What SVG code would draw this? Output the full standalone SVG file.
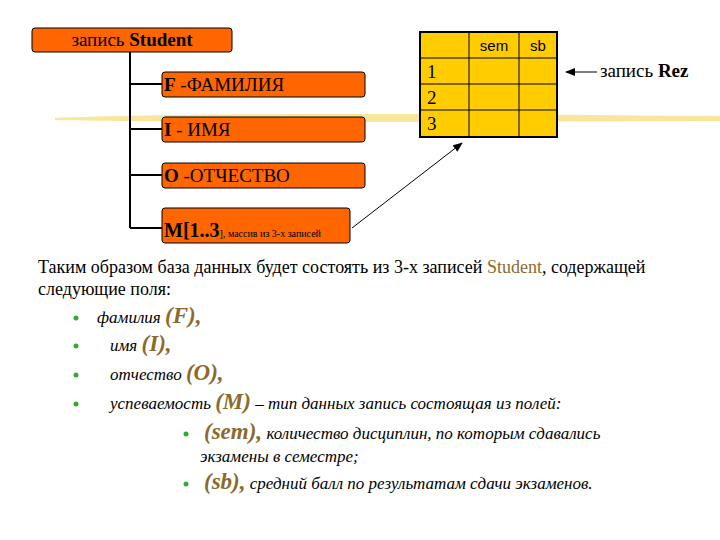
<svg xmlns="http://www.w3.org/2000/svg" width="720" height="540" viewBox="0 0 720 540">
<style>
.box{fill:#FF6600;stroke:#000;stroke-width:1}
.t{font-family:"Times New Roman","Liberation Serif","DejaVu Serif",serif;font-size:19px;fill:#000}
.s{font-family:"Liberation Sans",Arial,sans-serif;font-size:15px;fill:#000}
.ln{stroke:#000;stroke-width:2;fill:none}
.p{font-family:"Times New Roman","Liberation Serif","DejaVu Serif",serif;font-size:18px;fill:#000}
.i{font-family:"Times New Roman","Liberation Serif","DejaVu Serif",serif;font-style:italic;font-size:17px;fill:#000}
.k{font-size:23px;fill:#8B6A2E;font-weight:bold}
.b{fill:#33AA33}
</style>
<defs><marker id="ah" markerWidth="10" markerHeight="8" refX="9" refY="4" orient="auto" markerUnits="userSpaceOnUse"><path d="M0,0L10,4L0,8z" fill="#000"/></marker></defs>
<path d="M55,118 C200,112 500,114 720,116 L720,121 C500,122 200,123 55,120z" fill="#F4DC70" opacity="0.7"/>
<g id="connectors">
<path class="ln" d="M130,52V228M130,84H162M130,129H162M130,175H162M130,228H162"/>
<path d="M352,228L462,143" stroke="#000" stroke-width="1" marker-end="url(#ah)"/>
<path d="M597,72H566" stroke="#000" stroke-width="1" marker-end="url(#ah)"/>
</g>
<g id="student"><rect class="box" x="32" y="28" width="200" height="24" rx="3"/><text class="t" x="132" y="46" text-anchor="middle">запись <tspan font-weight="bold">Student</tspan></text></g>
<g id="f"><rect class="box" x="162" y="72" width="203" height="25" rx="3"/><text class="t" x="164" y="91"><tspan font-weight="bold">F</tspan> -ФАМИЛИЯ</text></g>
<g id="i"><rect class="box" x="162" y="117" width="203" height="25" rx="3"/><text class="t" x="164" y="136"><tspan font-weight="bold">I</tspan> - ИМЯ</text></g>
<g id="o"><rect class="box" x="162" y="163" width="203" height="25" rx="3"/><text class="t" x="164" y="182"><tspan font-weight="bold">O</tspan> -ОТЧЕСТВО</text></g>
<g id="m"><rect class="box" x="162" y="208" width="188" height="35" rx="3"/><text class="t" x="164" y="237"><tspan font-weight="bold" font-size="20">M[1..3</tspan><tspan font-size="10">], массив из 3-х записей</tspan></text></g>
<g id="rez">
<rect x="420" y="32" width="137" height="105" fill="#FFCC00" stroke="#000" stroke-width="2"/>
<path d="M469,32V137M519,32V137M420,58H557M420,84H557M420,110H557" stroke="#000" stroke-width="1"/>
<text class="s" x="494" y="51" text-anchor="middle">sem</text><text class="s" x="538" y="51" text-anchor="middle">sb</text>
<text class="t" x="427" y="78">1</text><text class="t" x="427" y="104">2</text><text class="t" x="427" y="130">3</text>
</g>
<text class="t" x="600" y="77" font-size="16">запись <tspan font-weight="bold">Rez</tspan></text>
<text class="p" x="38" y="273">Таким образом база данных будет состоять из 3-х записей  <tspan fill="#8B6A2E">Student</tspan>, содержащей</text>
<text class="p" x="38" y="295">следующие поля:</text>
<circle class="b" cx="76" cy="318" r="2.5"/><circle class="b" cx="76" cy="346" r="2.5"/><circle class="b" cx="76" cy="375" r="2.5"/><circle class="b" cx="76" cy="404" r="2.5"/>
<circle class="b" cx="186" cy="434" r="2.5"/><circle class="b" cx="186" cy="484" r="2.5"/>
<text class="i" x="97" y="323">фамилия <tspan class="k">(F),</tspan></text>
<text class="i" x="110" y="351">имя <tspan class="k">(I),</tspan></text>
<text class="i" x="110" y="380">отчество <tspan class="k">(O),</tspan></text>
<text class="i" x="110" y="409">успеваемость <tspan class="k">(M)</tspan> – тип данных запись состоящая из полей:</text>
<text class="i" x="204" y="439"><tspan class="k">(sem),</tspan> количество дисциплин, по которым сдавались</text>
<text class="i" x="200" y="462">экзамены в семестре;</text>
<text class="i" x="204" y="489"><tspan class="k">(sb),</tspan> средний балл по результатам сдачи экзаменов.</text>
</svg>
